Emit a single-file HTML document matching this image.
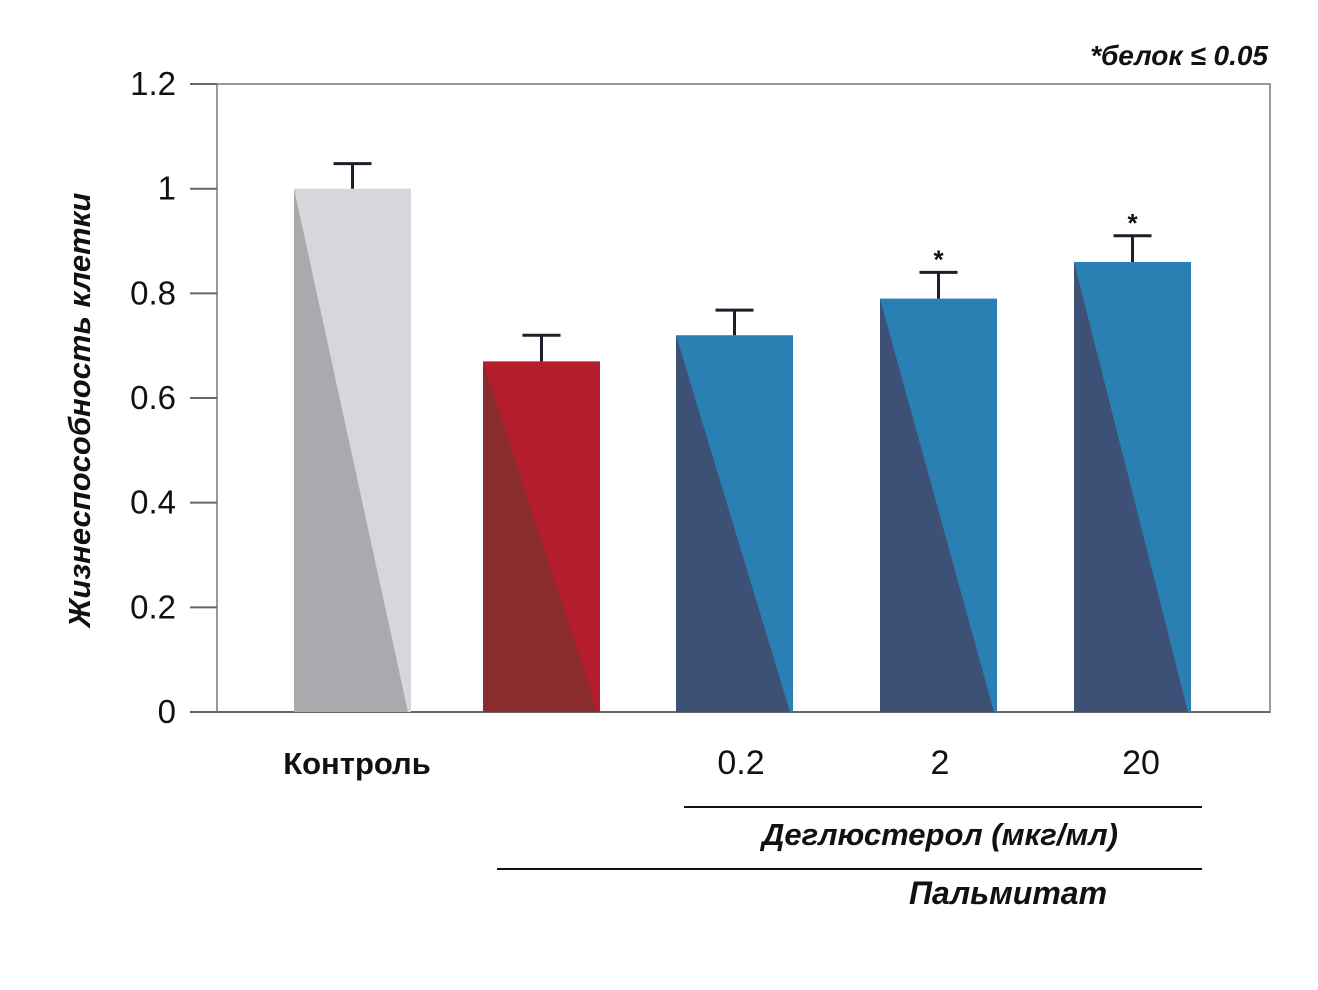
<!DOCTYPE html>
<html><head><meta charset="utf-8"><style>
body{margin:0;background:#fff;}
svg{display:block;font-family:"Liberation Sans","DejaVu Sans",sans-serif;}
</style></head><body>
<svg id="chart" width="1318" height="990" viewBox="0 0 1318 990">
<rect x="217" y="84" width="1053" height="628" fill="none" stroke="#9a9a9a" stroke-width="2"/>
<line x1="190" y1="712" x2="1270" y2="712" stroke="#666" stroke-width="2"/>
<g id="yticks"></g>
<g id="bars"></g>
<text x="90" y="410" transform="rotate(-90 90 410)" text-anchor="middle" font-size="31" font-style="italic" font-weight="bold" fill="#111">Жизнеспособность клетки</text>
<text x="1268" y="65" text-anchor="end" font-size="28" font-style="italic" font-weight="bold" fill="#111">*белок ≤ 0.05</text>
<text x="357" y="774" text-anchor="middle" font-size="31" font-weight="bold" fill="#111">Контроль</text>
<text x="741" y="774" text-anchor="middle" font-size="34" fill="#111">0.2</text>
<text x="940" y="774" text-anchor="middle" font-size="34" fill="#111">2</text>
<text x="1141" y="774" text-anchor="middle" font-size="34" fill="#111">20</text>
<line x1="684" y1="807" x2="1202" y2="807" stroke="#111" stroke-width="2"/>
<text x="940" y="845" text-anchor="middle" font-size="31" font-style="italic" font-weight="bold" fill="#111">Деглюстерол (мкг/мл)</text>
<line x1="497" y1="869" x2="1202" y2="869" stroke="#111" stroke-width="2"/>
<text x="1008" y="904" text-anchor="middle" font-size="32" font-style="italic" font-weight="bold" fill="#111">Пальмитат</text>
</svg>
<script>
const categories=["Контроль","Пальмитат","0.2","2","20"];
const values=[1.0,0.67,0.72,0.79,0.86];
const errors=[0.048,0.05,0.048,0.05,0.05];
const significant=[false,false,false,true,true];
const yTicks=[0,0.2,0.4,0.6,0.8,1,1.2];
const yTickLabels=["0","0.2","0.4","0.6","0.8","1","1.2"];
const NS="http://www.w3.org/2000/svg";
const y=v=>712-v*523.3;
const barX=i=>[294,483,676,880,1074][i];
const bw=117;
const colors=[["#a9aaae","#d6d7da"],["#8a2b2d","#b41d2b"],["#3d5075","#2a80b3"],["#3d5075","#2a80b3"],["#3d5075","#2a80b3"]];
function mk(tag,attrs,parent){const e=document.createElementNS(NS,tag);for(const k in attrs)e.setAttribute(k,attrs[k]);parent.appendChild(e);return e;}
const yt=document.getElementById('yticks');
yTicks.forEach((t,i)=>{
 const l=mk('line',{x1:190,x2:217,y1:y(t),y2:y(t),stroke:'#666','stroke-width':2},yt);
 
 
 const tx=mk('text',{x:176,y:y(t)+11,'text-anchor':'end','font-size':33,fill:'#111'},yt);
 tx.textContent=yTickLabels[i];
 
 
});
const bg=document.getElementById('bars');
values.forEach((v,i)=>{
 const x0=barX(i),x1=x0+bw,top=y(v),bot=712;
 const g=mk('g',{},bg);
 
 
 mk('rect',{x:x0,y:top,width:bw,height:bot-top,fill:colors[i][1]},g);
 mk('polygon',{points:`${x0},${top} ${x1-3},${bot} ${x0},${bot}`,fill:colors[i][0]},g);
 const cx=x0+bw/2,et=y(v+errors[i]);
 const eb=mk('g',{stroke:'#1e1e2a','stroke-width':3},bg);
 
 
 mk('line',{x1:cx,x2:cx,y1:top,y2:et},eb);
 mk('line',{x1:cx-19,x2:cx+19,y1:et,y2:et},eb);
 if(significant[i]){
  const s=mk('text',{x:cx,y:et-4,'text-anchor':'middle','font-size':26,'font-weight':'bold',fill:'#111'},bg);
  s.textContent='*';
  
  
 }
});
</script>
</body></html>
